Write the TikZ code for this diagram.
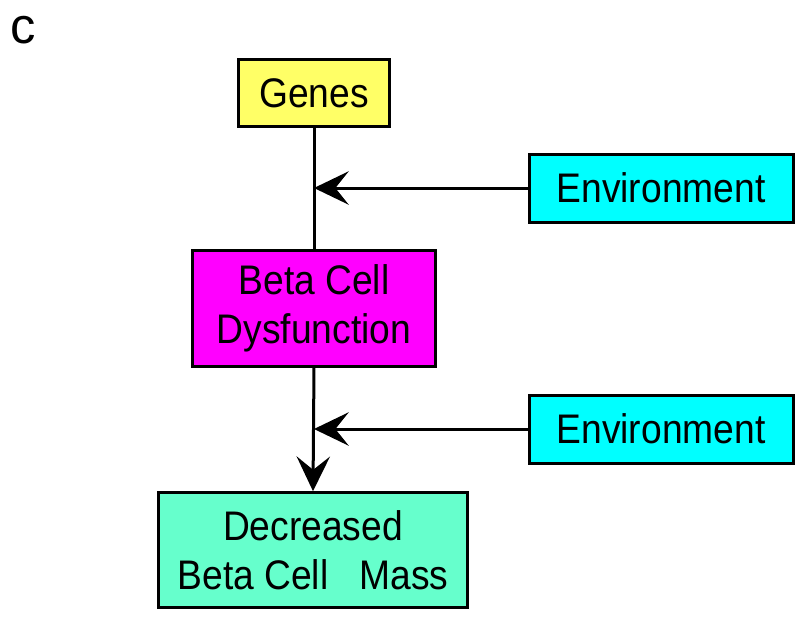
\documentclass[tikz,border=0pt]{standalone}
\usepackage{fontspec}
\setmainfont{Liberation Sans}
\newfontfamily\boxfont[FakeStretch=0.9]{Liberation Sans}
\usetikzlibrary{arrows.meta}

\definecolor{genesyellow}{RGB}{255,255,102}
\definecolor{envcyan}{RGB}{0,255,255}
\definecolor{betamagenta}{RGB}{255,0,255}
\definecolor{massgreen}{RGB}{102,255,204}

\begin{document}
\begin{tikzpicture}[x=0.75pt,y=-0.75pt]

	%\draw[help lines,step=50] (0,0) grid (800,619);

	\tikzset{box/.style={draw,line width=2.25pt,inner sep=0pt,align=center,font=\boxfont\fontsize{31}{37}\selectfont}}
	\tikzset{link/.style={line width=2.25pt}}
	\tikzset{head/.style={-{Stealth[length=26pt,width=25pt,inset=10pt]}}}

	\useasboundingbox (0,0) rectangle (800,619);

	\node[font=\fontsize{38}{40}\selectfont] (panel) at (23,30) {c};

	% main chain

	\node[box,fill=genesyellow,minimum width=113pt,minimum height=50pt] (genes) at (314,93) {Genes};
	\node[box,fill=betamagenta,minimum width=182pt,minimum height=87pt] (beta) at (314,308) {Beta Cell\\Dysfunction};
	\node[box,fill=massgreen,minimum width=232pt,minimum height=86pt] (mass) at (313,550) {Decreased\\Beta Cell~~~Mass};

	\draw[link] (genes.south) -- (beta.north);
	\draw[link,head] (beta.south) -- (mass.north);

	% environment inputs

	\foreach \n/\y in {1/188,2/429} {
		\node[box,fill=envcyan,minimum width=198pt,minimum height=51pt] (env\n) at (661,\y) {Environment};
		\coordinate (hit\n) at (genes.south |- env\n.west);
		\draw[link,head] (env\n.west) -- (hit\n);
	}

\end{tikzpicture}
\end{document}
